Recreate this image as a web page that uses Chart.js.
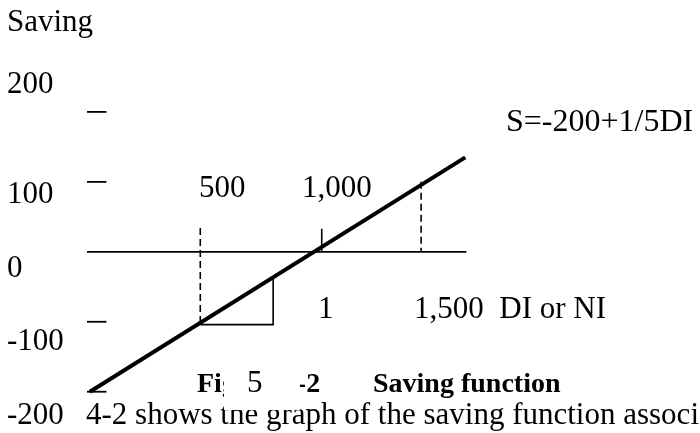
<!DOCTYPE html>
<html>
<head>
<meta charset="utf-8">
<title>Saving function</title>
<script src="https://cdn.jsdelivr.net/npm/chart.js@4/dist/chart.umd.min.js"></script>
<style>
  html, body { margin: 0; padding: 0; background: #fff; }
  #wrap { width: 700px; height: 433px; position: relative; }
</style>
</head>
<body>
<div id="wrap"><canvas id="savingChart" width="700" height="433"></canvas></div>
<script>
// saving function S = -200 + 1/5 DI
const savingDI = [0, 1700];
const savingS = [-200, 135];

// horizontal axis (S = 0)
const axisDI = [-13, 1705];

// dashed guides at DI 500 and 1,500
const guideDI = [500, 1500];
const guideTop = [34, 100];
const guideBottom = [-104, 0];

// short solid marker near 1,000
const markerDI = 1050;
const markerTop = 33;

// slope triangle (run 5, rise 1)
const slopeDI = [500, 830, 830];
const slopeS = [-104, -104, -37];

// left-side tick dashes and their labels
const yTickValues = [200, 100, -100, -200];
const yTickSpan = [-13, 75];
const yTickLabels = ["200", "100", "0", "-100", "-200"];

const xLabels = ["500", "1,000", "1", "1,500  DI or NI"];
const equationLabel = "S=-200+1/5DI";
const yTitle = "Saving";
const runLabel = "5";
const captionParts = ["Figure 4-2", "Saving function"];
const bodyText = "4-2 shows the graph of the saving function associ";

function pts(xs, ys){ return xs.map((x, i) => ({ x, y: ys[i] })); }

const base = { showLine: true, pointRadius: 0, borderColor: "#000", fill: false, tension: 0 };

const datasets = [
  { ...base, data: pts(savingDI, savingS), borderWidth: 4 },
  { ...base, data: pts(axisDI, [0, 0]), borderWidth: 1.8 },
  { ...base, data: pts(slopeDI, slopeS), borderWidth: 1.6 },
  { ...base, data: pts([markerDI, markerDI], [0, markerTop]), borderWidth: 1.6 },
];
guideDI.forEach((d, i) => {
  datasets.push({ ...base, data: pts([d, d], [guideTop[i], guideBottom[i]]), borderWidth: 1.6, borderDash: [7, 4] });
});
yTickValues.forEach(v => {
  datasets.push({ ...base, data: pts(yTickSpan, [v, v]), borderWidth: 1.8 });
});

const SERIF = '"Liberation Serif", "Times New Roman", serif';

// lettering around the plot, drawn after the datasets
const textPlugin = {
  id: "savingText",
  afterDraw(chart){
    const ctx = chart.ctx;
    ctx.save();
    ctx.fillStyle = "#000";
    ctx.textBaseline = "alphabetic";
    ctx.textAlign = "left";
    ctx.font = "31px " + SERIF;

    ctx.fillText(yTitle, 7, 31);
    const yLabelBase = [93, 203, 277, 350, 424];
    yTickLabels.forEach((t, i) => ctx.fillText(t, 7, yLabelBase[i]));

    const xLabelPos = [[199, 197], [302, 197], [318, 318], [414, 318]];
    xLabels.forEach((t, i) => ctx.fillText(t, xLabelPos[i][0], xLabelPos[i][1]));

    ctx.fillText(bodyText, 86, 424);

    ctx.font = "32px " + SERIF;
    ctx.fillText(equationLabel, 506, 131);

    ctx.font = "bold 28px " + SERIF;
    ctx.fillText(captionParts[0], 197, 392);
    ctx.fillText(captionParts[1], 373, 392);

    // the run label "5" sits in an opaque box laid over the caption and the line below it
    ctx.fillStyle = "#fff";
    ctx.fillRect(224, 362, 76, 48);
    ctx.fillStyle = "#000";
    ctx.font = "31px " + SERIF;
    ctx.fillText(runLabel, 247, 392);
    ctx.restore();
  }
};

new Chart(document.getElementById("savingChart"), {
  type: "scatter",
  data: { datasets },
  options: {
    responsive: false,
    animation: false,
    layout: { padding: 0 },
    plugins: { legend: { display: false }, tooltip: { enabled: false } },
    scales: {
      x: { type: "linear", display: false, min: -407, max: 2763 },
      y: { type: "linear", display: false, min: -259, max: 360 }
    }
  },
  plugins: [textPlugin]
});
</script>
</body>
</html>
